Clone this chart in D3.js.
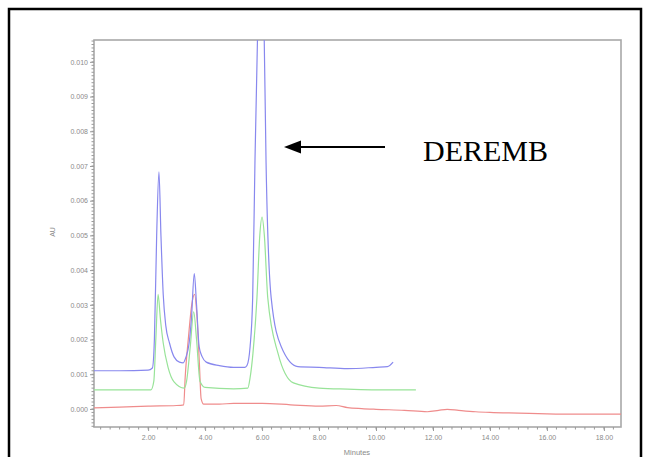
<!DOCTYPE html>
<html>
<head>
<meta charset="utf-8">
<script src="https://cdn.jsdelivr.net/npm/d3@7"></script>
<style>
  html, body { margin: 0; padding: 0; background: #fff; }
  svg { display: block; }
</style>
</head>
<body>
<svg id="chart" width="649" height="457"></svg>
<script>
// ---- data (time in minutes, absorbance in AU) ----
const blueTime = [0.1, 1.0, 2.0, 2.15, 2.22, 2.30, 2.38, 2.45, 2.53, 2.62, 2.75, 2.91, 3.1, 3.23, 3.33, 3.44, 3.52, 3.62, 3.70, 3.79, 3.9, 4.04, 4.5, 5.0, 5.4, 5.47, 5.58, 5.67, 5.75, 5.86, 5.96, 6.06, 6.14, 6.32, 6.67, 7.26, 8.0, 9.0, 10.0, 10.4, 10.6];
const blueAU   = [0.00110, 0.00110, 0.00112, 0.00118, 0.0020, 0.0050, 0.00683, 0.0050, 0.0033, 0.0024, 0.0019, 0.0015, 0.00135, 0.00133, 0.0015, 0.0019, 0.0026, 0.0039, 0.0030, 0.0018, 0.0015, 0.00135, 0.00125, 0.0012, 0.0012, 0.00125, 0.0018, 0.0032, 0.0071, 0.0115, 0.0135, 0.0115, 0.0071, 0.0032, 0.0018, 0.00122, 0.00120, 0.00116, 0.00120, 0.00122, 0.00135];

const greenTime = [0.1, 2.1, 2.2, 2.27, 2.35, 2.43, 2.53, 2.7, 2.91, 3.27, 3.35, 3.48, 3.6, 3.7, 3.82, 4.0, 5.0, 5.5, 5.58, 5.68, 5.82, 5.92, 6.0, 6.08, 6.2, 6.56, 7.1, 8.0, 9.0, 10.0, 11.4];
const greenAU   = [0.00055, 0.00055, 0.0008, 0.0020, 0.0033, 0.0026, 0.0019, 0.0012, 0.00078, 0.0006, 0.0008, 0.0018, 0.0028, 0.0020, 0.0008, 0.00062, 0.00058, 0.0006, 0.0009, 0.0016, 0.0032, 0.0050, 0.00553, 0.0050, 0.0032, 0.0016, 0.00075, 0.0006, 0.00057, 0.00055, 0.00055];

const redTime = [0.1, 1.0, 2.0, 3.0, 3.25, 3.3, 3.42, 3.53, 3.63, 3.72, 3.8, 3.86, 3.95, 4.5, 5.0, 6.0, 7.0, 8.0, 8.6, 9.0, 9.5, 10.0, 11.0, 11.8, 12.2, 12.5, 12.9, 13.5, 14.0, 15.0, 16.0, 17.0, 18.6];
const redAU   = [0.00003, 0.00005, 0.00008, 0.0001, 0.00012, 0.0009, 0.0021, 0.0030, 0.0033, 0.0026, 0.0013, 0.0003, 0.00014, 0.00014, 0.00016, 0.00016, 0.00012, 0.00008, 0.0001, 0.00004, 0.00001, -0.00001, -0.00004, -0.00008, -0.00004, -0.00001, -0.00004, -0.00008, -0.0001, -0.00012, -0.00014, -0.00015, -0.00015];

const xTickValues = [2, 4, 6, 8, 10, 12, 14, 16, 18];
const yTickValues = [0.000, 0.001, 0.002, 0.003, 0.004, 0.005, 0.006, 0.007, 0.008, 0.009, 0.010];
const xTitle = "Minutes";
const yTitle = "AU";
const annotationText = "DEREMB";

// ---- layout ----
const svg = d3.select("#chart");
const pLeft = 94, pRight = 621, pTop = 40, pBottom = 427;

const x = d3.scaleLinear().domain([0.1, 18.6]).range([pLeft, pRight]);
const y = d3.scaleLinear().domain([-0.00052, 0.01063]).range([pBottom, pTop]);

// outer black frame
svg.append("rect")
  .attr("x", 9).attr("y", 9).attr("width", 632).attr("height", 460)
  .attr("fill", "none").attr("stroke", "#000").attr("stroke-width", 2.5);

// clip
svg.append("clipPath").attr("id", "clip")
  .append("rect").attr("x", pLeft).attr("y", pTop).attr("width", pRight - pLeft).attr("height", pBottom - pTop);

// plot frame
svg.append("rect")
  .attr("x", pLeft).attr("y", pTop).attr("width", pRight - pLeft).attr("height", pBottom - pTop)
  .attr("fill", "none").attr("stroke", "#a8a8a8").attr("stroke-width", 1.6);

const axisColor = "#9a9a9a";
const labelColor = "#8a8a8a";

// x minor ticks
const xMinor = d3.range(0, 57).map(i => i / 3).filter(v => v >= 0.1 && v <= 18.6);
svg.append("g").selectAll("line").data(xMinor).join("line")
  .attr("x1", d => x(d)).attr("x2", d => x(d))
  .attr("y1", pBottom).attr("y2", pBottom + 2.5)
  .attr("stroke", axisColor).attr("stroke-width", 1);

// x major axis
const xAxis = d3.axisBottom(x).tickValues(xTickValues).tickFormat(d3.format(".2f")).tickSize(4).tickSizeOuter(0);
const gx = svg.append("g").attr("transform", `translate(0,${pBottom})`).call(xAxis);
gx.select(".domain").remove();
gx.selectAll(".tick line").attr("stroke", axisColor);
gx.selectAll(".tick text").attr("fill", labelColor).attr("font-size", 7)
  .attr("font-family", "Liberation Sans, Arial, sans-serif").attr("dy", "0.9em");

// y minor ticks
const yMinor = d3.range(-5, 107).map(i => i * 0.0001).filter(v => v >= -0.00052 && v <= 0.01063);
svg.append("g").selectAll("line").data(yMinor).join("line")
  .attr("x1", pLeft - 2.5).attr("x2", pLeft)
  .attr("y1", d => y(d)).attr("y2", d => y(d))
  .attr("stroke", axisColor).attr("stroke-width", 1);

const yAxis = d3.axisLeft(y).tickValues(yTickValues).tickFormat(d3.format(".3f")).tickSize(4).tickSizeOuter(0);
const gy = svg.append("g").attr("transform", `translate(${pLeft},0)`).call(yAxis);
gy.select(".domain").remove();
gy.selectAll(".tick line").attr("stroke", axisColor);
gy.selectAll(".tick text").attr("fill", labelColor).attr("font-size", 7)
  .attr("font-family", "Liberation Sans, Arial, sans-serif").attr("x", -6);

// axis titles
svg.append("text").attr("x", 357).attr("y", 455).attr("text-anchor", "middle")
  .attr("font-size", 7.5).attr("fill", labelColor)
  .attr("font-family", "Liberation Sans, Arial, sans-serif").text(xTitle);
svg.append("text").attr("transform", "translate(55,232) rotate(-90)").attr("text-anchor", "middle")
  .attr("font-size", 7).attr("fill", labelColor)
  .attr("font-family", "Liberation Sans, Arial, sans-serif").text(yTitle);

// traces
const line = d3.line().x(d => x(d[0])).y(d => y(d[1])).curve(d3.curveMonotoneX);
const traces = [
  { t: redTime, v: redAU, color: "#ef8c8c" },
  { t: greenTime, v: greenAU, color: "#98e398" },
  { t: blueTime, v: blueAU, color: "#8888ee" }
];
const gTraces = svg.append("g").attr("clip-path", "url(#clip)");
traces.forEach(s => {
  gTraces.append("path")
    .datum(s.t.map((t, i) => [t, s.v[i]]))
    .attr("d", line)
    .attr("fill", "none")
    .attr("stroke", s.color)
    .attr("stroke-width", 1.2);
});

// annotation arrow
svg.append("line")
  .attr("x1", 385).attr("y1", 147).attr("x2", 296).attr("y2", 147)
  .attr("stroke", "#000").attr("stroke-width", 2);
svg.append("path")
  .attr("d", "M284,147 L301,140.5 L301,153.5 Z").attr("fill", "#000");

svg.append("text").attr("x", 423).attr("y", 160.5)
  .attr("font-family", "Liberation Serif, Times New Roman, serif")
  .attr("font-size", 30).attr("fill", "#000").text(annotationText);
</script>
</body>
</html>
